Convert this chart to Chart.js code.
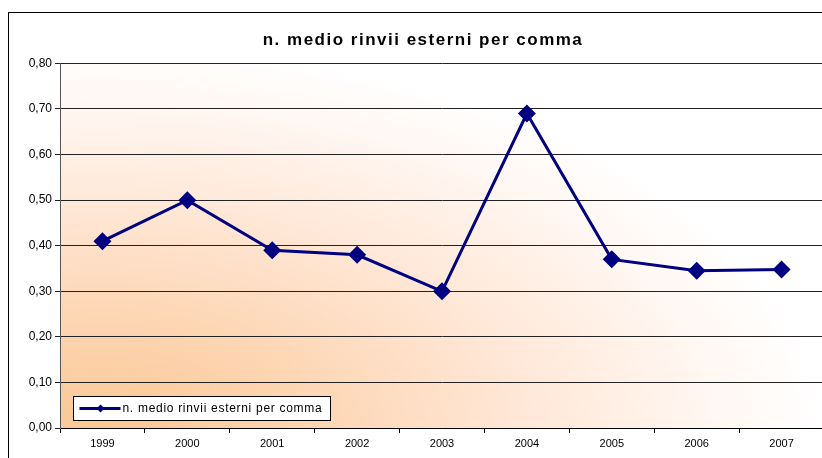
<!DOCTYPE html>
<html>
<head>
<meta charset="utf-8">
<script src="https://cdn.jsdelivr.net/npm/chart.js@4/dist/chart.umd.min.js"></script>
<style>
  html, body { margin: 0; padding: 0; background: #fff; overflow: hidden; }
  #wrap { width: 836px; height: 458px; }
</style>
</head>
<body>
<div id="wrap"><canvas id="chart" width="836" height="458"></canvas></div>
<script>
const chartTitle = "n. medio rinvii esterni per comma";
const years = ["1999", "2000", "2001", "2002", "2003", "2004", "2005", "2006", "2007"];
const rinvii = [0.41, 0.50, 0.39, 0.38, 0.30, 0.69, 0.37, 0.345, 0.348];
const yTicks = [0, 0.1, 0.2, 0.3, 0.4, 0.5, 0.6, 0.7, 0.8];

const lineColor = "#000080";
const font = "'Liberation Sans', Arial, sans-serif";

// sfondo sfumato dell'area del grafico + cornice esterna
const background = {
  id: "background",
  beforeDraw(chart) {
    const { ctx, chartArea: a } = chart;
    ctx.save();
    ctx.fillStyle = "#fff";
    ctx.fillRect(0, 0, chart.width, chart.height);
    ctx.strokeStyle = "#000";
    ctx.lineWidth = 1;
    ctx.strokeRect(8.5, 12.5, 900, 500);

    ctx.beginPath();
    ctx.rect(a.left, a.top, a.right - a.left, a.bottom - a.top);
    ctx.clip();
    ctx.translate(a.left + 40, a.bottom);
    ctx.scale(1, 380 / 720);
    const g = ctx.createRadialGradient(0, 0, 0, 0, 0, 720);
    g.addColorStop(0, "#FBC794");
    g.addColorStop(0.3, "#FDD6B4");
    g.addColorStop(0.6, "#FFE8D8");
    g.addColorStop(0.85, "#FFF7F2");
    g.addColorStop(1, "#FFFFFF");
    ctx.fillStyle = g;
    ctx.fillRect(-100, -800, 1000, 810);
    ctx.restore();
  }
};

// titolo con spaziatura tra le lettere, come nell'originale
const spacedTitle = {
  id: "spacedTitle",
  afterDraw(chart) {
    const { ctx } = chart;
    ctx.save();
    ctx.letterSpacing = "1.5px";
    ctx.fillStyle = "#000";
    ctx.font = "bold 17px " + font;
    ctx.textAlign = "center";
    ctx.textBaseline = "middle";
    ctx.fillText(chartTitle, 423, 40);
    ctx.restore();
  }
};

// legenda dentro l'area del grafico, in basso a sinistra
const insideLegend = {
  id: "insideLegend",
  afterDraw(chart) {
    const { ctx, chartArea: a } = chart;
    const ds = chart.data.datasets[0];
    const x = a.left + 13.5, y = a.bottom - 31.5, w = 257, h = 24;
    ctx.save();
    ctx.fillStyle = "#fff";
    ctx.fillRect(x, y, w, h);
    ctx.strokeStyle = "#000";
    ctx.lineWidth = 1;
    ctx.strokeRect(x, y, w, h);
    const cy = y + h / 2;
    ctx.strokeStyle = ds.borderColor;
    ctx.lineWidth = 3;
    ctx.beginPath();
    ctx.moveTo(x + 6, cy);
    ctx.lineTo(x + 47, cy);
    ctx.stroke();
    ctx.fillStyle = ds.borderColor;
    ctx.beginPath();
    ctx.moveTo(x + 27, cy - 4);
    ctx.lineTo(x + 31, cy);
    ctx.lineTo(x + 27, cy + 4);
    ctx.lineTo(x + 23, cy);
    ctx.closePath();
    ctx.fill();
    ctx.fillStyle = "#000";
    ctx.font = "12px " + font;
    ctx.letterSpacing = "0.7px";
    ctx.textBaseline = "middle";
    ctx.fillText(ds.label, x + 49, cy + 0.5);
    ctx.restore();
  }
};

new Chart(document.getElementById("chart"), {
  type: "line",
  data: {
    labels: years,
    datasets: [{
      label: chartTitle,
      data: rinvii,
      borderColor: lineColor,
      backgroundColor: lineColor,
      borderWidth: 3,
      pointStyle: "rectRot",
      pointRadius: 9,
      pointBorderWidth: 0,
      tension: 0
    }]
  },
  options: {
    responsive: false,
    animation: false,
    layout: { padding: { left: 0, right: 12, top: 0, bottom: 0 } },
    plugins: {
      legend: { display: false },
      tooltip: { enabled: false },
      title: {
        display: true,
        text: chartTitle,
        color: "rgba(0,0,0,0)",
        font: { family: font, size: 17, weight: "bold" },
        padding: { top: 29, bottom: 14 }
      }
    },
    scales: {
      x: {
        offset: true,
        border: { color: "#000", width: 1 },
        grid: { offset: true, drawOnChartArea: false, drawTicks: true, tickLength: 5, color: "#000" },
        ticks: { color: "#000", font: { family: font, size: 11 }, padding: 4, maxRotation: 0 },
        afterFit(scale) { scale.height = 30; }
      },
      y: {
        min: 0,
        max: 0.8,
        afterBuildTicks(scale) { scale.ticks = yTicks.map(v => ({ value: v })); },
        border: { color: "#555", width: 1 },
        grid: { color: "#222", lineWidth: 1, tickLength: 5 },
        ticks: {
          color: "#000",
          font: { family: font, size: 12 },
          padding: 3,
          callback: v => v.toFixed(2).replace(".", ",")
        },
        afterFit(scale) { scale.width = 60; }
      }
    }
  },
  plugins: [background, spacedTitle, insideLegend]
});
</script>
</body>
</html>
